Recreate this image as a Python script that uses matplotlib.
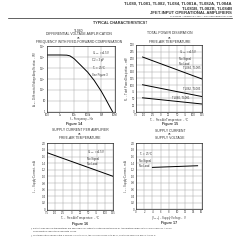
import matplotlib
matplotlib.use("Agg")
import matplotlib.pyplot as plt

plt.rcParams["font.family"] = ["Liberation Sans", "DejaVu Sans"]
plt.rcParams["axes.unicode_minus"] = False

# Figure 14 - TL080 gain vs frequency
freq_hz = [100, 1e3, 3e3, 5e3, 1e4, 3e4, 1e5, 3e5, 1e6, 2e6, 4e6, 6.5e6]
avd = [1.5e5, 1.5e5, 1.45e5, 1.25e5, 7e4, 1.8e4, 4e3, 7e2, 70, 15, 3, 1]
freq_ticks = [1e2, 1e3, 1e4, 1e5, 1e6, 1e7]
freq_labels = ["100", "1k", "10k", "100k", "1M", "10M"]
avd_ticks = [1, 10, 1e2, 1e3, 1e4, 1e5, 1e6]
avd_labels = ["1", "10", "$10^2$", "$10^3$", "$10^4$", "$10^5$", "$10^6$"]

# Figure 15 - power dissipation vs temperature
pd_temp = [-55, 125]
pd_tl084 = [205, 123]
pd_tl082 = [101, 57]
pd_tl080 = [52, 29]

# Figure 16 - supply current per amplifier vs temperature
icc_temp = [-75, 125]
icc_per_amp = [1.72, 1.0]

# Figure 17 - supply current vs supply voltage
vcc = [4, 15]
icc_vcc = [1.27, 1.32]

temp_ticks = [-75, -50, -25, 0, 25, 50, 75, 100, 125]
pd_ticks = list(range(0, 251, 25))
icc_ticks = [0, 0.2, 0.4, 0.6, 0.8, 1.0, 1.2, 1.4, 1.6, 1.8, 2.0]
icc_labels = ["0", "0.2", "0.4", "0.6", "0.8", "1.0", "1.2", "1.4", "1.6", "1.8", "2.0"]
vcc_ticks = list(range(0, 17, 2))

W, H = 240, 240
fig = plt.figure(figsize=(2.4, 2.4), dpi=100)
fig.patch.set_facecolor("white")

TXT = "#333333"
FS = 2.4
TICK_FS = 2.0
LAB_FS = 2.0


def px_axes(l, t, r, b):
    return fig.add_axes([l / W, 1 - b / H, (r - l) / W, (b - t) / H])


def put(x, y, s, fs=FS, ha="center", **kw):
    fig.text(x / W, 1 - y / H, s, fontsize=fs, ha=ha, va="center", color=TXT, **kw)


def style(ax):
    ax.grid(True, which="major", color="#999999", lw=0.3)
    ax.tick_params(which="both", length=0, labelsize=TICK_FS, pad=0.8, colors=TXT)
    for s in ax.spines.values():
        s.set_linewidth(0.5)
        s.set_color("#222222")


# header
put(232, 3.5, "TL080, TL081, TL082, TL084, TL081A, TL082A, TL084A", fs=3.1, ha="right", weight="bold")
put(232, 8.2, "TL081B, TL082B, TL084B", fs=3.1, ha="right", weight="bold")
put(232, 12.8, "JFET-INPUT OPERATIONAL AMPLIFIERS", fs=3.1, ha="right", weight="bold")
put(232, 16.0, "SLOS081E \u2013 FEBRUARY 1977 \u2013 REVISED FEBRUARY 1999", fs=1.6, ha="right")
fig.add_artist(plt.Line2D([8 / W, 232 / W], [1 - 17.8 / H, 1 - 17.8 / H], color="#222222", lw=0.5))
put(120, 23.3, "TYPICAL CHARACTERISTICS\u2020", fs=2.7, weight="bold")

# ---- Figure 14
put(79, 30.5, "TL080", fs=FS)
put(79, 34.3, "DIFFERENTIAL VOLTAGE AMPLIFICATION", fs=FS)
put(79, 38.2, "vs", fs=FS)
put(79, 42.2, "FREQUENCY WITH FEED-FORWARD COMPENSATION", fs=FS)
ax = px_axes(46.7, 46, 115, 111.5)
ax.loglog(freq_hz, avd, color="black", lw=0.7)
ax.set_xlim(1e2, 1e7)
ax.set_ylim(1, 1e6)
ax.set_xticks(freq_ticks, freq_labels)
ax.set_yticks(avd_ticks, avd_labels)
ax.minorticks_off()
style(ax)
ax.text(0.66, 0.95, "V$_{CC\u00b1}$ = \u00b115 V\nC2 = 3 pF\nT$_A$ = 25\u00b0C\nSee Figure 3",
        transform=ax.transAxes, fontsize=2.0, va="top", ha="left", color=TXT, linespacing=1.4)
put(35, 79, "A$_{VD}$ \u2013 Differential Voltage Amplification \u2013 V/V", fs=LAB_FS, rotation=90)
put(81, 119.0, "f \u2013 Frequency \u2013 Hz", fs=LAB_FS)
put(74, 124, "Figure 14", fs=2.6, weight="bold")

# ---- Figure 15
put(170, 33.3, "TOTAL POWER DISSIPATION", fs=FS)
put(170, 37.6, "vs", fs=FS)
put(170, 41.6, "FREE-AIR TEMPERATURE", fs=FS)
ax = px_axes(136, 45, 201.7, 111.7)
ax.plot(pd_temp, pd_tl084, color="black", lw=0.7)
ax.plot(pd_temp, pd_tl082, color="black", lw=0.7)
ax.plot(pd_temp, pd_tl080, color="black", lw=0.7)
ax.set_xlim(-75, 125)
ax.set_ylim(0, 250)
ax.set_xticks(temp_ticks)
ax.set_yticks(pd_ticks)
style(ax)
ax.text(0.66, 0.95, "V$_{CC\u00b1}$ = \u00b115 V\nNo Signal\nNo Load",
        transform=ax.transAxes, fontsize=2.0, va="top", ha="left", color=TXT, linespacing=1.4)
ax.text(95, 164, "TL084, TL085", fontsize=2.0, ha="center", va="center", color=TXT)
ax.text(95, 86, "TL082, TL083", fontsize=2.0, ha="center", va="center", color=TXT)
ax.text(60, 53, "TL080, TL081", fontsize=2.0, ha="center", va="center", color=TXT)
put(127, 78, "P$_D$ \u2013 Total Power Dissipation \u2013 mW", fs=LAB_FS, rotation=90)
put(169, 119.8, "T$_A$ \u2013 Free-Air Temperature \u2013 \u00b0C", fs=LAB_FS)
put(170, 124.3, "Figure 15", fs=2.6, weight="bold")

# ---- Figure 16
put(80, 130.3, "SUPPLY CURRENT PER AMPLIFIER", fs=FS)
put(80, 134.2, "vs", fs=FS)
put(80, 138.3, "FREE-AIR TEMPERATURE", fs=FS)
ax = px_axes(46.7, 143.3, 113.3, 209.5)
ax.plot(icc_temp, icc_per_amp, color="black", lw=0.7)
ax.set_xlim(-75, 125)
ax.set_ylim(0, 2.0)
ax.set_xticks(temp_ticks)
ax.set_yticks(icc_ticks, icc_labels)
style(ax)
ax.text(0.6, 0.93, "V$_{CC\u00b1}$ = \u00b115 V\nNo Signal\nNo Load",
        transform=ax.transAxes, fontsize=2.0, va="top", ha="left", color=TXT, linespacing=1.4)
put(35, 176, "I$_{CC}$ \u2013 Supply Current \u2013 mA", fs=LAB_FS, rotation=90)
put(80, 218.5, "T$_A$ \u2013 Free-Air Temperature \u2013 \u00b0C", fs=LAB_FS)
put(80, 223.5, "Figure 16", fs=2.6, weight="bold")

# ---- Figure 17
put(170, 130.5, "SUPPLY CURRENT", fs=FS)
put(170, 134.2, "vs", fs=FS)
put(170, 138.0, "SUPPLY VOLTAGE", fs=FS)
ax = px_axes(136, 143.3, 201.7, 209.3)
ax.plot(vcc, icc_vcc, color="black", lw=0.7)
ax.set_xlim(0, 16)
ax.set_ylim(0, 2.0)
ax.set_xticks(vcc_ticks)
ax.set_yticks(icc_ticks, icc_labels)
style(ax)
ax.text(0.05, 0.9, "T$_A$ = 25\u00b0C\nNo Signal\nNo Load",
        transform=ax.transAxes, fontsize=2.0, va="top", ha="left", color=TXT, linespacing=1.4)
put(126.5, 176, "I$_{CC}$ \u2013 Supply Current \u2013 mA", fs=LAB_FS, rotation=90)
put(169, 217.6, "|V$_{CC\u00b1}$| \u2013 Supply Voltage \u2013 V", fs=LAB_FS)
put(169, 222.6, "Figure 17", fs=2.6, weight="bold")

# footnotes
put(31, 228.3, "\u2020 Data at high and low temperatures are applicable only within the rated operating free-air temperature ranges of the various devices. A 12-pF",
    fs=1.6, ha="left")
put(33, 231.2, "compensation capacitor is used with TL080.", fs=1.6, ha="left")
put(31, 234.8, "\u2021 The temperature range of the C version is 0\u00b0C to 70\u00b0C, the I version is \u221240\u00b0C to 85\u00b0C, and the M version is \u221255\u00b0C to 125\u00b0C.",
    fs=1.6, ha="left")

fig.savefig("out.png", dpi=100)
